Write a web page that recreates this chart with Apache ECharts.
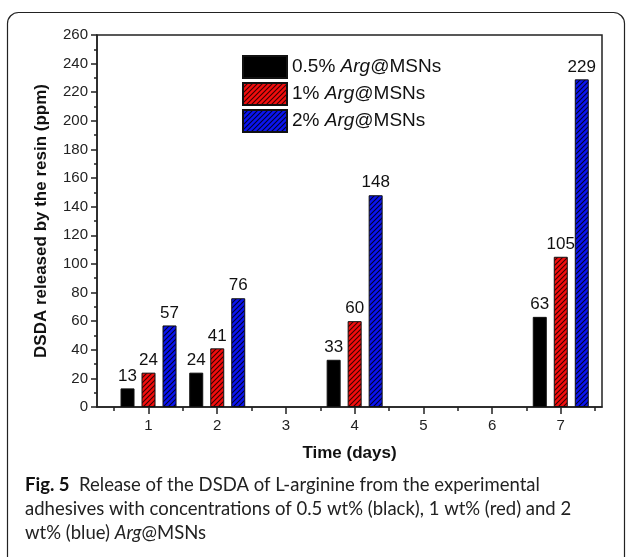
<!DOCTYPE html>
<html>
<head>
<meta charset="utf-8">
<script src="https://cdn.jsdelivr.net/npm/echarts@6/dist/echarts.min.js"></script>
<style>
html,body{margin:0;padding:0;background:#fff;}
#chart{width:627px;height:557px;}
</style>
</head>
<body>
<div id="chart"></div>
<script>
// ---- data ----
const days = [1, 2, 4, 7];
const dayTicks = [1, 2, 3, 4, 5, 6, 7];
const halfTicks = [0.5, 1.5, 2.5, 3.5, 4.5, 5.5, 6.5, 7.5];
const seriesNames = ['0.5% Arg@MSNs', '1% Arg@MSNs', '2% Arg@MSNs'];
const arg05 = [13, 24, 33, 63];
const arg1 = [24, 41, 60, 105];
const arg2 = [57, 76, 148, 229];
const yMin = 0, yMax = 260, yStep = 20;
const captionLines = [
  '{b|Fig. 5}  Release of the DSDA of L-arginine from the experimental',
  'adhesives with concentrations of 0.5 wt% (black), 1 wt% (red) and 2',
  'wt% (blue) {i|Arg}@MSNs'
];

function hatch(bg, line) {
  const s = 5;
  const c = document.createElement('canvas');
  c.width = s; c.height = s;
  const g = c.getContext('2d');
  g.fillStyle = bg; g.fillRect(0, 0, s, s);
  g.strokeStyle = line; g.lineWidth = 1.1;
  g.beginPath();
  g.moveTo(0, s); g.lineTo(s, 0);
  g.moveTo(-1, 1); g.lineTo(1, -1);
  g.moveTo(s - 1, s + 1); g.lineTo(s + 1, s - 1);
  g.stroke();
  return { image: c, repeat: 'repeat' };
}

const fills = ['#000000', hatch('#f20d0d', '#3a0000'), hatch('#0a14f0', '#00002e')];
const values = [arg05, arg1, arg2];
const font = 'Liberation Sans, Arial, sans-serif';
const capFont = 'Lato, Open Sans, sans-serif';
const capSize = 18.5;

const chart = echarts.init(document.getElementById('chart'), null, { renderer: 'canvas' });

const series = seriesNames.map((name, i) => ({
  name: name,
  type: 'bar',
  barWidth: 14,
  barGap: '50%',
  data: days.map((d, k) => [d, values[i][k]]),
  itemStyle: { color: fills[i], borderColor: '#111', borderWidth: 1 },
  label: {
    show: true, position: 'top', distance: 4,
    fontFamily: font, fontSize: 17, color: '#111',
    formatter: p => p.value[1]
  }
}));

const option = {
  animation: false,
  backgroundColor: '#fff',
  grid: {
    left: 97, top: 35, right: 25, bottom: 150,
    show: true, borderColor: '#222', borderWidth: 1.5, backgroundColor: 'transparent'
  },
  legend: {
    orient: 'vertical',
    left: 242, top: 55, padding: 0,
    itemWidth: 44, itemHeight: 22, itemGap: 3,
    icon: 'rect',
    data: seriesNames,
    formatter: n => n.replace('Arg', '{i|Arg}'),
    textStyle: {
      fontFamily: font, fontSize: 19, color: '#111',
      rich: { i: { fontFamily: font, fontSize: 19, fontStyle: 'italic', color: '#111' } }
    }
  },
  xAxis: [{
    type: 'value',
    min: 0.25, max: 7.6,
    name: 'Time (days)',
    nameLocation: 'middle',
    nameGap: 38,
    nameTextStyle: { fontFamily: font, fontSize: 17, fontWeight: 'bold', color: '#111' },
    splitLine: { show: false },
    axisLine: { show: true, onZero: false, lineStyle: { color: '#222', width: 1.5 } },
    axisTick: { show: true, customValues: dayTicks, length: 7, lineStyle: { color: '#222', width: 1.5 } },
    axisLabel: { show: true, customValues: dayTicks, fontFamily: font, fontSize: 15, color: '#222', margin: 11 }
  }, {
    type: 'value',
    min: 0.25, max: 7.6,
    position: 'bottom',
    splitLine: { show: false },
    axisLine: { show: false },
    axisTick: { show: true, customValues: halfTicks, length: 4, lineStyle: { color: '#222', width: 1.5 } },
    axisLabel: { show: false }
  }],
  yAxis: {
    type: 'value',
    min: yMin, max: yMax, interval: yStep,
    name: 'DSDA released by the resin (ppm)',
    nameLocation: 'middle',
    nameGap: 47,
    nameTextStyle: { fontFamily: font, fontSize: 17, fontWeight: 'bold', color: '#111' },
    splitLine: { show: false },
    axisLine: { show: true, lineStyle: { color: '#222', width: 1.5 } },
    axisTick: { show: true, length: 6, lineStyle: { color: '#222', width: 1.5 } },
    minorTick: { show: true, splitNumber: 2, length: 3, lineStyle: { color: '#222', width: 1.5 } },
    axisLabel: { fontFamily: font, fontSize: 15, color: '#222', margin: 9 }
  },
  series: series,
  graphic: [
    {
      type: 'rect', silent: true, z: -1,
      shape: { x: 7.5, y: 12.5, width: 617, height: 560, r: 11 },
      style: { fill: 'none', stroke: '#222', lineWidth: 1.2 }
    }
  ].concat(captionLines.map((t, i) => ({
    type: 'text', left: 25, top: 476 + i * 24,
    style: {
      text: t,
      fontFamily: capFont,
      fontSize: capSize, fill: '#222',
      rich: {
        b: { fontFamily: capFont, fontSize: capSize, fontWeight: 'bold', fill: '#111' },
        i: { fontFamily: capFont, fontSize: capSize, fontStyle: 'italic', fill: '#222' }
      }
    }
  })))
};

chart.setOption(option);
</script>
</body>
</html>
